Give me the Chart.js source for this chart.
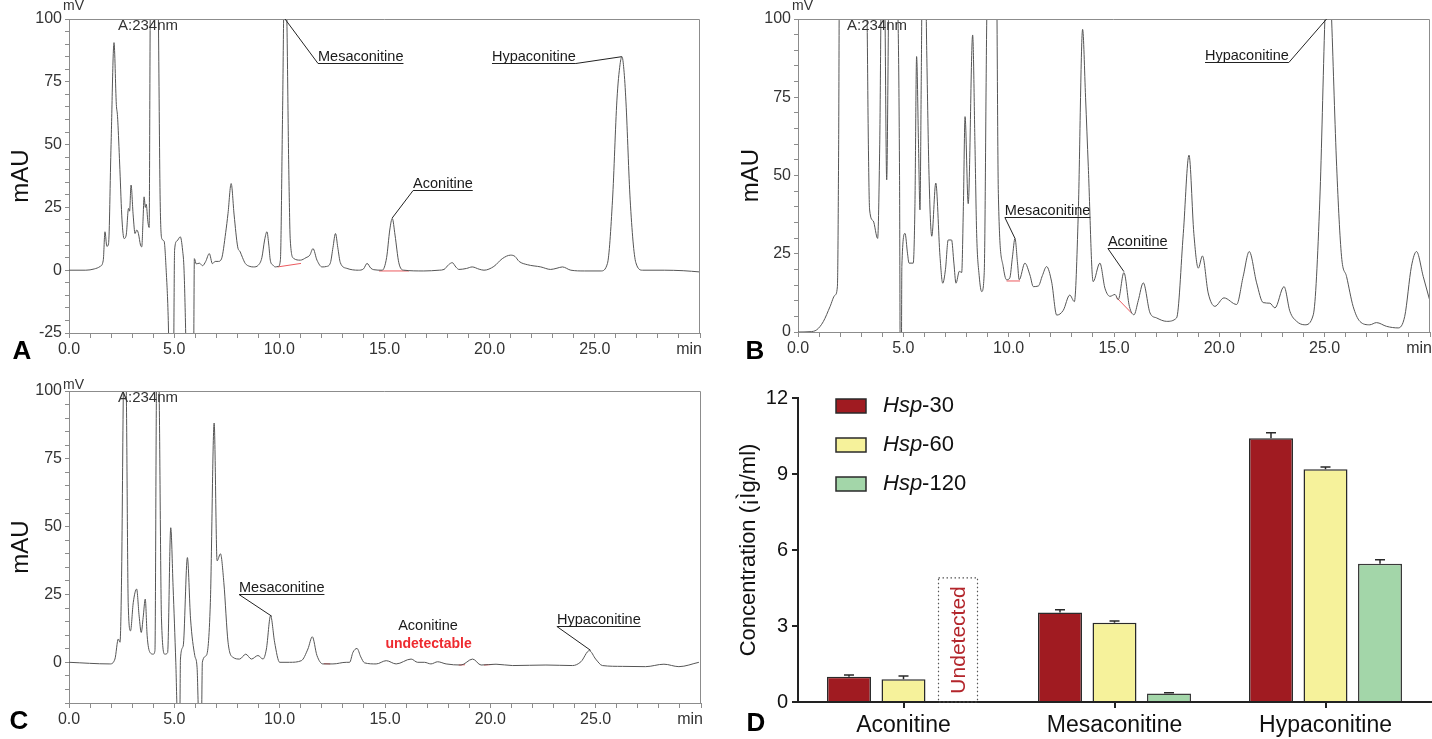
<!DOCTYPE html>
<html><head><meta charset="utf-8">
<script src="https://cdn.jsdelivr.net/npm/chart.js@4.4.1/dist/chart.umd.min.js"></script>
<style>
html,body{margin:0;padding:0;background:#fff;width:1432px;height:739px;overflow:hidden}
canvas{position:absolute}
</style></head><body>
<canvas id="cA" width="716" height="370" style="left:0;top:0"></canvas>
<canvas id="cB" width="716" height="370" style="left:716px;top:0"></canvas>
<canvas id="cC" width="716" height="369" style="left:0;top:370px"></canvas>
<canvas id="cD" width="716" height="369" style="left:716px;top:370px"></canvas>
<script>
const FONT = "'Liberation Sans', Arial, Helvetica, sans-serif";

// ---- Chromatogram traces: [time (min), signal (mAU)] ----
const chromA = [[0,0],[0.8,0],[1.2,0.5],[1.48,1.5],[1.63,4],[1.71,15.3],[1.8,9.5],[1.88,10.5],[2.0,50],[2.14,90.6],[2.25,66],[2.3,62],[2.33,57.7],[2.42,40],[2.52,20],[2.62,12.6],[2.72,14],[2.83,24.6],[2.88,23.5],[2.95,33.9],[3.05,22],[3.14,14.6],[3.22,16],[3.3,14.6],[3.4,10],[3.46,9.3],[3.52,20],[3.57,29.2],[3.63,25],[3.67,26.3],[3.75,19.3],[3.81,17],[3.86,100],[3.9,140],[3.97,120],[4.04,110],[4.12,135],[4.18,140],[4.25,100],[4.33,30],[4.41,12.6],[4.52,11.6],[4.62,0],[4.72,-20],[4.78,-45],[4.9,-60],[4.97,-40],[5.02,8],[5.13,11.6],[5.29,13.3],[5.4,8],[5.47,0],[5.56,-30],[5.62,-60],[5.86,-60],[5.93,-30],[5.96,4.6],[6.05,2.5],[6.2,2.8],[6.35,1.8],[6.5,3.5],[6.67,6.6],[6.82,2.6],[6.95,3.5],[7.1,3.5],[7.25,4.5],[7.45,15],[7.56,22.6],[7.71,34.5],[7.85,22],[8.02,9.3],[8.14,7.3],[8.25,5],[8.38,2.7],[8.6,1.5],[8.78,1.3],[9.0,2],[9.17,5],[9.3,12],[9.41,15.3],[9.5,10],[9.57,4],[9.7,2],[9.81,1.3],[9.95,1.5],[10.05,4],[10.15,60],[10.24,115],[10.33,110],[10.45,40],[10.52,12],[10.68,4.7],[11.0,4],[11.27,5],[11.45,6],[11.6,8.6],[11.79,4],[12.03,1.3],[12.25,1.5],[12.43,3],[12.55,9],[12.67,14.6],[12.78,9],[12.9,3],[13.22,0.7],[13.76,0],[14.0,0.5],[14.17,2.7],[14.35,0.8],[14.49,0.2],[14.89,0],[15.1,5],[15.25,16],[15.37,20.6],[15.5,14],[15.68,3],[15.92,0],[16.87,-0.3],[17.6,0],[17.83,0.3],[18.05,2.2],[18.22,3],[18.4,1.2],[18.54,0.3],[18.9,0.7],[19.17,1.3],[19.5,0.4],[19.73,0],[20.2,1.5],[20.6,4.6],[21.0,6],[21.2,5.5],[21.4,3.5],[21.79,2.2],[22.43,1.3],[22.9,0.3],[23.2,0.8],[23.46,1.3],[23.86,0],[24.5,-0.3],[25.29,-0.3],[25.6,2.7],[25.84,27.9],[26.05,67.7],[26.2,82],[26.29,85],[26.38,80],[26.48,67],[26.68,28],[26.95,3],[27.27,0],[28.3,0],[29.2,-0.2],[30,-0.7]];

const chromB = [[0,0],[0.57,0.1],[0.89,0.7],[1.2,3.3],[1.52,8.1],[1.76,11.8],[1.87,14.5],[1.93,60],[1.97,120],[2.6,160],[3.2,130],[3.28,100],[3.34,60],[3.4,39],[3.57,35.5],[3.78,29.9],[3.88,60],[3.97,115],[4.1,115],[4.21,48.6],[4.33,115],[4.55,115],[4.7,110],[4.82,50],[4.86,-20],[4.9,-20],[4.93,20.9],[5.08,31.5],[5.2,25],[5.27,22],[5.47,22],[5.55,40],[5.63,88],[5.72,60],[5.79,39],[5.85,80],[5.9,115],[6.05,115],[6.11,90],[6.22,50],[6.35,30.6],[6.54,47.6],[6.74,24.2],[6.87,15.6],[7.0,20],[7.13,29.4],[7.29,29.4],[7.4,22],[7.5,15.6],[7.66,19.4],[7.77,19],[7.85,40],[7.93,68.8],[8.08,41],[8.29,94.9],[8.4,60],[8.48,31.5],[8.6,18],[8.72,12.9],[8.84,19],[8.96,100],[9.05,130],[9.4,130],[9.51,44.3],[9.74,20.9],[9.9,16.7],[10.05,17.2],[10.18,24],[10.3,29.9],[10.42,22],[10.5,16.7],[10.77,22],[11.01,18.2],[11.17,14.5],[11.41,14.7],[11.6,18],[11.8,20.9],[12.04,16],[12.28,5.4],[12.59,6.9],[12.9,11.8],[13.12,9.7],[13.3,36.9],[13.51,96.7],[13.65,75],[13.78,52.8],[14.01,16.1],[14.33,22],[14.57,14],[14.81,11.4],[15.05,12],[15.2,10.3],[15.47,19],[15.73,8.2],[15.95,5.5],[16.15,10],[16.39,15.7],[16.71,6.1],[17.02,4.5],[17.5,3.4],[17.97,4.5],[18.29,31.5],[18.56,56.5],[18.79,31.5],[19.0,20.4],[19.2,24.3],[19.47,12.5],[19.79,8.2],[20.22,10.9],[20.82,8.8],[21.13,17.7],[21.42,25.7],[21.77,15.7],[22.08,9.4],[22.4,9.2],[22.64,7.7],[23.07,14.5],[23.35,6.6],[23.67,3.4],[24.06,2.3],[24.46,5.5],[24.77,42.2],[25.01,100],[25.17,130],[25.33,100],[25.57,52.8],[25.8,24.2],[26.04,17.7],[26.35,8.2],[26.67,3.4],[27.14,2.3],[27.46,3],[27.94,1.8],[28.49,1.3],[28.8,5],[29.12,21],[29.36,25.7],[29.68,17.7],[30,9.8]];

const chromC = [[0,0],[1.94,-0.6],[2.18,1.2],[2.34,8.6],[2.42,7.4],[2.5,34],[2.58,100],[2.64,120],[2.72,100],[2.81,22],[2.92,11.6],[3.05,22],[3.21,27],[3.33,17],[3.43,11],[3.52,16.5],[3.62,23.3],[3.71,9.8],[3.84,3.7],[4.0,3],[4.08,4.3],[4.15,100],[4.22,130],[4.28,100],[4.39,16],[4.55,3],[4.68,3.5],[4.83,49.6],[4.94,28],[5.07,0],[5.15,-20],[5.26,-20],[5.29,1.2],[5.42,6],[5.62,38.6],[5.77,16],[5.97,2.5],[6.08,-2],[6.16,-20],[6.29,-20],[6.33,0],[6.52,2.5],[6.71,22],[6.89,88.2],[7.03,37.4],[7.19,40],[7.35,29.4],[7.55,7.4],[7.79,1.8],[8.1,1.2],[8.39,3],[8.66,1.2],[8.97,2.5],[9.21,1.2],[9.37,4.9],[9.57,17.2],[9.76,7.4],[10.0,0],[10.47,0],[11.03,0.6],[11.34,4.9],[11.55,9.4],[11.77,2.5],[12.05,-0.6],[12.53,-0.6],[13.16,0],[13.32,0],[13.48,3.7],[13.67,5.1],[13.85,2],[14.03,-0.2],[14.58,-0.6],[15.06,0.6],[15.53,-0.6],[16.24,1.2],[16.55,0],[16.87,0],[17.18,-0.6],[17.5,0.2],[17.9,-0.6],[18.61,-1],[19.16,1.2],[19.56,-1],[20.27,-0.7],[21.06,-1.2],[22.64,-1],[23.9,-1.2],[24.3,0.2],[24.7,4.3],[25.0,1.2],[25.32,-1.2],[26.27,-1.5],[27.37,-1.6],[28.24,-0.7],[28.95,-1.6],[29.9,0]];

// integration baselines [t1, y1, t2, y2]
const baselineA = [[9.92,1.3,11.03,2.7],[14.74,-0.3,16.16,-0.3]];
const baselineB = [[9.9,16.3,10.54,16.3],[15.12,11,15.84,6]];
const baselineC = [[12.1,-0.5,12.4,-0.6],[18.5,-1,18.8,-0.9],[19.7,-1,20.1,-0.8]];

// peak labels: compound, apex time, apex signal
const peakNames = ['Mesaconitine','Aconitine','Hypaconitine'];
const apexA = [[10.27,100],[15.36,20.7],[26.28,85]];
const apexB = [[10.3,29.9],[15.47,19.3],[25.09,100]];
const apexC = [[9.62,17],null,[24.76,4.4]];

// ---- Bar chart (panel D) ----
const categories = ['Aconitine','Mesaconitine','Hypaconitine'];
const seriesLabels = ['Hsp-30','Hsp-60','Hsp-120'];
const hsp30 = [1.0, 3.53, 10.41];
const hsp60 = [0.90, 3.13, 9.19];
const hsp120 = [null, 0.34, 5.46];
const err30 = [0.07, 0.11, 0.22];
const err60 = [0.13, 0.07, 0.09];
const err120 = [0, 0.03, 0.16];
const concTicks = [0, 3, 6, 9, 12];
const chromYLabels = [100, 75, 50, 25, 0, -25];
const chromXLabels = [0, 5, 10, 15, 20, 25];

function chromDecor(cfg) {
  return {
    id: 'decor' + cfg.letter,
    afterDraw(chart) {
      const {ctx, chartArea: ca, scales: {x, y}} = chart;
      ctx.save();
      ctx.strokeStyle = '#8c8c8c'; ctx.lineWidth = 1;
      ctx.beginPath();
      ctx.moveTo(ca.left, ca.top + 0.5); ctx.lineTo(ca.right - 0.5, ca.top + 0.5); ctx.lineTo(ca.right - 0.5, ca.bottom);
      ctx.stroke();
      ctx.fillStyle = '#333';
      ctx.font = '14px ' + FONT; ctx.textAlign = 'left'; ctx.textBaseline = 'alphabetic';
      ctx.fillText('mV', ca.left - 6, ca.top + cfg.mVdy);
      ctx.textBaseline = 'middle'; ctx.font = '15px ' + FONT;
      ctx.fillText('A:234nm', ca.left + 49, ca.top + 7);
      ctx.font = '16px ' + FONT; ctx.textAlign = 'right';
      ctx.fillText('min', ca.right + 2, ca.bottom + 17);
      ctx.font = '14.5px ' + FONT; ctx.textAlign = 'left';
      ctx.strokeStyle = '#222';
      cfg.annots.forEach(a => {
        const apex = cfg.apex[a.i];
        const tx = x.getPixelForValue(a.tx), ty = y.getPixelForValue(a.ty);
        const text = peakNames[a.i];
        const w = ctx.measureText(text).width;
        ctx.fillStyle = '#1a1a1a';
        ctx.fillText(text, tx, ty);
        if (apex) {
          const uy = Math.round(ty + 6) + 0.5;
          ctx.beginPath();
          ctx.moveTo(tx, uy); ctx.lineTo(tx + w, uy);
          const ax = a.side === 'right' ? tx + w : tx;
          ctx.moveTo(ax, uy);
          ctx.lineTo(x.getPixelForValue(apex[0]), Math.max(ca.top, y.getPixelForValue(apex[1])));
          ctx.stroke();
        }
      });
      (cfg.extra || []).forEach(e => {
        ctx.font = e.font; ctx.fillStyle = e.color; ctx.textAlign = 'center';
        ctx.fillText(e.text, x.getPixelForValue(e.tx), y.getPixelForValue(e.ty));
      });
      ctx.font = 'bold 26px ' + FONT; ctx.fillStyle = '#000'; ctx.textAlign = 'center'; ctx.textBaseline = 'middle';
      ctx.fillText(cfg.letter, cfg.letterX, cfg.letterY);
      ctx.restore();
    }
  };
}

function makeChrom(id, trace, baselines, cfg) {
  const datasets = [{
    data: trace.map(p => ({x: p[0], y: p[1]})),
    borderColor: '#555', borderWidth: 1, pointRadius: 0, fill: false,
    cubicInterpolationMode: 'monotone'
  }];
  baselines.forEach(b => datasets.push({
    data: [{x: b[0], y: b[1]}, {x: b[2], y: b[3]}],
    borderColor: '#ec5a5f', borderWidth: 1, pointRadius: 0, fill: false
  }));
  return new Chart(document.getElementById(id), {
    type: 'line',
    data: {datasets},
    options: {
      responsive: false, animation: false, events: [],
      layout: {padding: {left: cfg.padL, right: cfg.padR, top: cfg.padT, bottom: 0}},
      plugins: {legend: {display: false}, tooltip: {enabled: false}},
      scales: {
        x: {
          type: 'linear', min: 0, max: 30,
          border: {display: true, color: '#8c8c8c'},
          grid: {drawOnChartArea: false, drawTicks: true, tickLength: 5, color: '#8c8c8c'},
          ticks: {stepSize: 1, autoSkip: false, maxRotation: 0, padding: 2, color: '#333',
            font: {family: FONT, size: 16},
            callback: v => chromXLabels.includes(v) ? v.toFixed(1) : ''},
          afterFit: s => { s.height = cfg.xH; }
        },
        y: {
          type: 'linear', min: cfg.yMin, max: 100,
          border: {display: true, color: '#8c8c8c'},
          grid: {drawOnChartArea: false, drawTicks: true, tickLength: 4, color: '#8c8c8c'},
          ticks: {stepSize: 5, autoSkip: false, padding: 3, color: '#333',
            font: {family: FONT, size: 16},
            callback: v => chromYLabels.includes(v) ? String(v) : ''},
          title: {display: true, text: 'mAU', color: '#111', font: {family: FONT, size: 24}, padding: {top: 7, bottom: 0}},
          afterFit: s => { s.width = cfg.yW; }
        }
      }
    },
    plugins: [chromDecor(cfg)]
  });
}

makeChrom('cA', chromA, baselineA, {
  letter: 'A', letterX: 22, letterY: 352, padL: 0, padR: 16, padT: 19, yW: 69, xH: 37, yMin: -25, mVdy: -9,
  apex: apexA,
  annots: [{i: 0, tx: 11.84, ty: 84.9, side: 'left'}, {i: 1, tx: 16.36, ty: 34.3, side: 'left'}, {i: 2, tx: 20.11, ty: 84.9, side: 'right'}]
});
makeChrom('cB', chromB, baselineB, {
  letter: 'B', letterX: 39, letterY: 352, padL: 14, padR: 2, padT: 19, yW: 68, xH: 38, yMin: 0, mVdy: -9,
  apex: apexB,
  annots: [{i: 0, tx: 9.82, ty: 38.75, side: 'left'}, {i: 1, tx: 14.71, ty: 28.66, side: 'left'}, {i: 2, tx: 19.32, ty: 88.3, side: 'right'}]
});
makeChrom('cC', chromC, baselineC, {
  letter: 'C', letterX: 19, letterY: 352, padL: 0, padR: 15, padT: 21, yW: 69, xH: 36, yMin: -15, mVdy: -2,
  apex: apexC,
  annots: [{i: 0, tx: 8.07, ty: 27.5, side: 'left'}, {i: 2, tx: 23.16, ty: 15.55, side: 'left'}],
  extra: [
    {text: 'Aconitine', tx: 17.04, ty: 13.3, font: '14.5px ' + FONT, color: '#1a1a1a'},
    {text: 'undetectable', tx: 17.07, ty: 6.6, font: 'bold 14px ' + FONT, color: '#ee2a2f'}
  ]
});

// ---- Panel D ----
const errorSets = [err30, err60, err120];
const barDecor = {
  id: 'barDecor',
  afterDatasetsDraw(chart) {
    const {ctx, chartArea: ca, scales: {y}} = chart;
    ctx.save();
    ctx.strokeStyle = '#2a2a2a'; ctx.lineWidth = 1.5;
    chart.data.datasets.forEach((ds, i) => {
      chart.getDatasetMeta(i).data.forEach((bar, j) => {
        const v = ds.data[j], e = errorSets[i][j];
        if (v == null || !e) return;
        const top = y.getPixelForValue(v + e), base = y.getPixelForValue(v);
        ctx.beginPath();
        ctx.moveTo(bar.x, base); ctx.lineTo(bar.x, top);
        ctx.moveTo(bar.x - 5, top); ctx.lineTo(bar.x + 5, top);
        ctx.stroke();
      });
    });
    // undetected slot (Hsp-120, Aconitine)
    const m0 = chart.getDatasetMeta(0).data[0], m1 = chart.getDatasetMeta(1).data[0];
    const cx = 2 * m1.x - m0.x;
    const top = y.getPixelForValue(4.9), bottom = ca.bottom;
    ctx.setLineDash([1.5, 2.5]); ctx.lineWidth = 1.2; ctx.strokeStyle = '#555';
    ctx.strokeRect(cx - 19.5, top, 39, bottom - top);
    ctx.setLineDash([]);
    ctx.translate(cx + 1, (top + bottom) / 2);
    ctx.rotate(-Math.PI / 2);
    ctx.fillStyle = '#b3262c'; ctx.font = '21px ' + FONT; ctx.textAlign = 'center'; ctx.textBaseline = 'middle';
    ctx.fillText('Undetected', 0, 0);
    ctx.restore();
  },
  afterDraw(chart) {
    const {ctx, chartArea: ca} = chart;
    ctx.save();
    chart.data.datasets.forEach((ds, i) => {
      const cy = ca.top + 8 + i * 39;
      const bx = ca.left + 38;
      ctx.fillStyle = ds.backgroundColor; ctx.strokeStyle = '#2a2a2a'; ctx.lineWidth = 1.5;
      ctx.fillRect(bx, cy - 7, 30, 14); ctx.strokeRect(bx, cy - 7, 30, 14);
      const parts = ds.label.split('-');
      ctx.fillStyle = '#111'; ctx.textBaseline = 'middle'; ctx.textAlign = 'left';
      ctx.font = 'italic 22px ' + FONT;
      ctx.fillText(parts[0], bx + 47, cy);
      const w = ctx.measureText(parts[0]).width;
      ctx.font = '22px ' + FONT;
      ctx.fillText('-' + parts[1], bx + 47 + w, cy);
    });
    ctx.font = 'bold 26px ' + FONT; ctx.fillStyle = '#000'; ctx.textAlign = 'center'; ctx.textBaseline = 'middle';
    ctx.fillText('D', 40, 354);
    ctx.restore();
  }
};

new Chart(document.getElementById('cD'), {
  type: 'bar',
  data: {
    labels: categories,
    datasets: [
      {label: seriesLabels[0], data: hsp30, backgroundColor: '#a01b21', borderColor: '#2a2a2a', borderWidth: 1.5},
      {label: seriesLabels[1], data: hsp60, backgroundColor: '#f6f29b', borderColor: '#2a2a2a', borderWidth: 1.5},
      {label: seriesLabels[2], data: hsp120, backgroundColor: '#a3d6a9', borderColor: '#3a3a3a', borderWidth: 1.5}
    ]
  },
  options: {
    responsive: false, animation: false, events: [],
    layout: {padding: {left: 16, right: 1, top: 28, bottom: 0}},
    datasets: {bar: {categoryPercentage: 0.775, barPercentage: 0.807}},
    plugins: {legend: {display: false}, tooltip: {enabled: false}},
    scales: {
      x: {
        border: {display: true, color: '#222', width: 2},
        grid: {offset: false, drawOnChartArea: false, drawTicks: true, tickLength: 6, color: '#222', lineWidth: 2},
        ticks: {padding: 4, color: '#111', font: {family: FONT, size: 23}, maxRotation: 0},
        afterFit: s => { s.height = 37; }
      },
      y: {
        min: 0, max: 12,
        border: {display: true, color: '#222', width: 2},
        grid: {drawOnChartArea: false, drawTicks: true, tickLength: 6, color: '#222', lineWidth: 2},
        ticks: {stepSize: 3, padding: 4, color: '#111', font: {family: FONT, size: 20},
          callback: v => concTicks.includes(v) ? String(v) : ''},
        title: {display: true, text: 'Concentration (¡Ìg/ml)', color: '#111', font: {family: FONT, size: 22}, padding: {top: 4, bottom: 0}},
        afterFit: s => { s.width = 66; }
      }
    }
  },
  plugins: [barDecor]
});
</script>
</body></html>
